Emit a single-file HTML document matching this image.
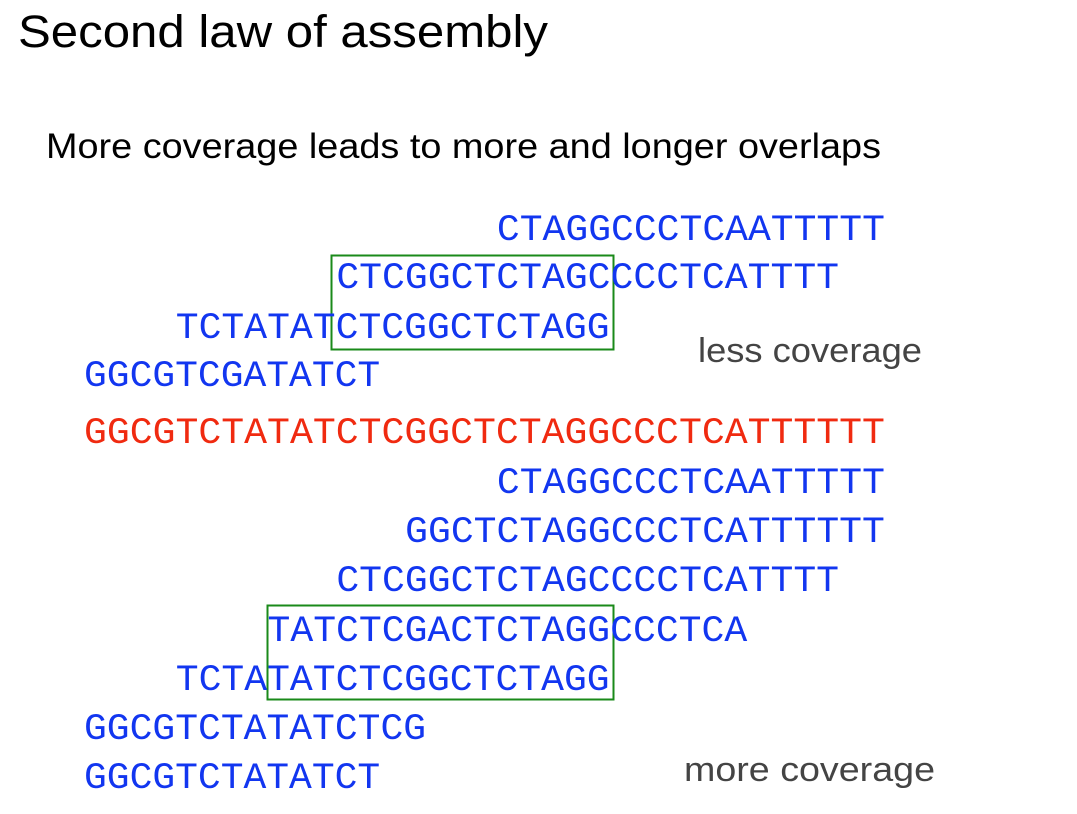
<!DOCTYPE html>
<html><head><meta charset="utf-8"><style>
html,body{margin:0;padding:0;background:#fff}
svg{display:block}
.seq{font-family:"Liberation Mono",monospace;font-size:37px}
.b{fill:#1236f0}.r{fill:#f02a10}
.t{font-family:"Liberation Sans",sans-serif}
</style></head><body>
<svg width="1077" height="814" viewBox="0 0 1077 814">
<text class="t" x="18" y="47" font-size="45" textLength="530" lengthAdjust="spacingAndGlyphs" fill="#000">Second law of assembly</text>
<text class="t" x="46" y="158" font-size="35" textLength="835" lengthAdjust="spacingAndGlyphs" fill="#000">More coverage leads to more and longer overlaps</text>
<text class="t" x="698" y="362" font-size="34" textLength="224" lengthAdjust="spacingAndGlyphs" fill="#444">less coverage</text>
<text class="t" x="684" y="781" font-size="34" textLength="251" lengthAdjust="spacingAndGlyphs" fill="#444">more coverage</text>
<rect x="331.5" y="255.5" width="282" height="94" fill="none" stroke="#1a8a1a" stroke-width="2"/>
<rect x="267.5" y="605.5" width="346" height="94" fill="none" stroke="#1a8a1a" stroke-width="2"/>
<g id="seqs"></g>
</svg>
<script>
const reads = ["CTAGGCCCTCAATTTTT","CTCGGCTCTAGCCCCTCATTTT","TCTATATCTCGGCTCTAGG","GGCGTCGATATCT","GGCGTCTATATCTCGGCTCTAGGCCCTCATTTTTT","CTAGGCCCTCAATTTTT","GGCTCTAGGCCCTCATTTTTT","CTCGGCTCTAGCCCCTCATTTT","TATCTCGACTCTAGGCCCTCA","TCTATATCTCGGCTCTAGG","GGCGTCTATATCTCG","GGCGTCTATATCT"];
const cols = [18,11,4,0,0,18,14,11,8,4,0,0];
const baselines = [240,288,338,386,443,493,542,591,641,690,739,788];
const kinds = ["b","b","b","b","r","b","b","b","b","b","b","b"];
const cw = 22.94, x0 = 84;
const g = document.getElementById('seqs');
reads.forEach((s,i)=>{
  const t = document.createElementNS('http://www.w3.org/2000/svg','text');
  t.setAttribute('x', x0 + cols[i]*cw);
  t.setAttribute('y', baselines[i]);
  t.setAttribute('class', 'seq ' + kinds[i]);
  t.setAttribute('textLength', (s.length*cw - 2).toFixed(1));
  t.setAttribute('lengthAdjust', 'spacingAndGlyphs');
  
  
  t.textContent = s;
  g.appendChild(t);
});
</script>
</body></html>
